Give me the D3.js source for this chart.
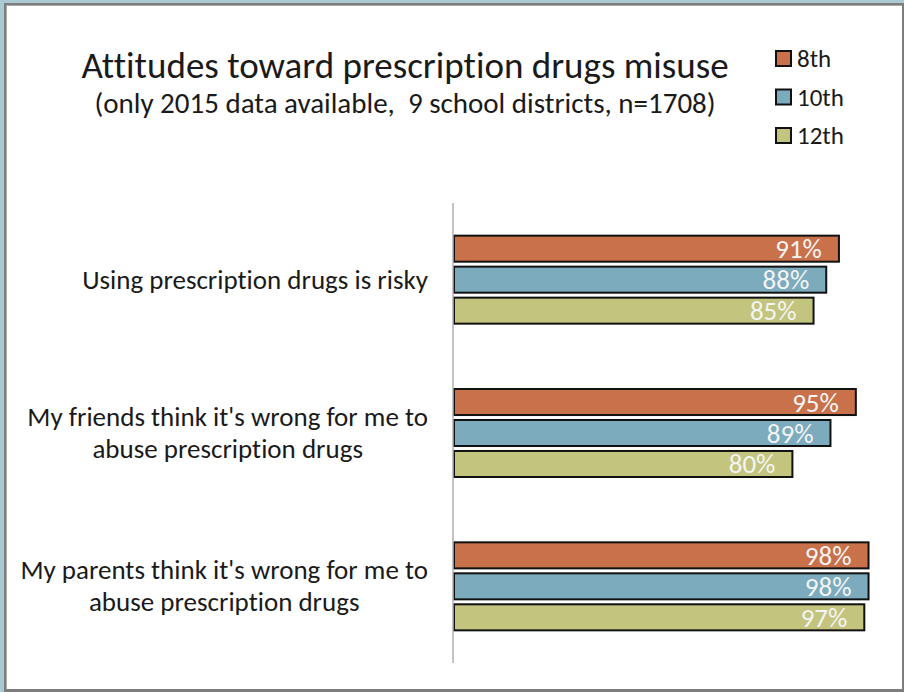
<!DOCTYPE html>
<html>
<head>
<meta charset="utf-8">
<script src="https://cdn.jsdelivr.net/npm/d3@7"></script>
<style>
  html, body { margin: 0; padding: 0; background: #abc9d3; }
  svg { display: block; }
  text { font-family: Carlito, Lato, "Open Sans", sans-serif; font-variant-ligatures: none; white-space: pre; }
</style>
</head>
<body>
<svg id="chart" width="904" height="692"></svg>
<script>
// Survey questions, one entry per line of the wrapped label
const categories = [
  ["Using prescription drugs is risky"],
  ["My friends think it's wrong for me to", "abuse prescription drugs"],
  ["My parents think it's wrong for me to", "abuse prescription drugs"]
];
const grades = ["8th", "10th", "12th"];
const values8th  = [91, 95, 98];
const values10th = [88, 89, 98];
const values12th = [85, 80, 97];
const gradeColors = ["#c8714a", "#7babbd", "#c3c47e"];
const titleText = "Attitudes toward prescription drugs misuse";
const subtitleText = "(only 2015 data available,  9 school districts, n=1708)";

const seriesValues = [values8th, values10th, values12th];
const catKeys = categories.map(d => d.join(" "));

const svg = d3.select("#chart");
const W = 904, H = 692;

// Window frame
svg.append("rect").attr("x", 4).attr("y", 3).attr("width", W - 4).attr("height", H - 3).attr("fill", "#7d7d7d");
svg.append("rect").attr("x", 6).attr("y", 5).attr("width", W - 8).attr("height", H - 8).attr("fill", "#a9a9a9");
svg.append("rect").attr("x", 7).attr("y", 6).attr("width", 895).attr("height", 683).attr("fill", "#ffffff");

// Scales
const x = d3.scaleLinear().domain([0, 100]).range([454, 877]);
const y = d3.scaleBand().domain(catKeys).range([203, 663]);
const inner = d3.scaleBand().domain(grades)
  .range([y.bandwidth() / 2 - 44, y.bandwidth() / 2 + 44])
  .paddingInner(0.16);

// Title
svg.append("text").attr("x", 405).attr("y", 78).attr("text-anchor", "middle")
  .attr("font-size", 37).attr("fill", "#1a1a1a").text(titleText);
svg.append("text").attr("x", 405).attr("y", 113).attr("text-anchor", "middle")
  .attr("font-size", 29).attr("fill", "#1a1a1a").text(subtitleText);

// Bars
const rows = [];
catKeys.forEach((c, i) => grades.forEach((g, j) => rows.push({ cat: c, grade: g, value: seriesValues[j][i], color: gradeColors[j] })));

const barG = svg.append("g");
barG.selectAll("rect").data(rows).join("rect")
  .attr("x", x(0))
  .attr("y", d => y(d.cat) + inner(d.grade))
  .attr("width", d => x(d.value) - x(0))
  .attr("height", inner.bandwidth())
  .attr("fill", d => d.color)
  .attr("stroke", "#111")
  .attr("stroke-width", 2);

barG.selectAll("text").data(rows).join("text")
  .attr("x", d => x(d.value) - 17)
  .attr("y", d => y(d.cat) + inner(d.grade) + inner.bandwidth() / 2 + 9.5)
  .attr("text-anchor", "end")
  .attr("font-size", 27)
  .attr("fill", "#f4f4f4")
  .text(d => d.value + "%");

// Category axis line
svg.append("line").attr("x1", 453).attr("x2", 453).attr("y1", 203).attr("y2", 663)
  .attr("stroke", "#b0b0b0").attr("stroke-width", 1.5);

// Category labels: block right-aligned, lines centred within it
const labelRight = 428, lineGap = 32, labelSize = 27;
categories.forEach((lines, i) => {
  const g = svg.append("g");
  const cy = y(catKeys[i]) + y.bandwidth() / 2;
  const t = g.selectAll("text").data(lines).join("text")
    .attr("font-size", labelSize).attr("fill", "#1a1a1a")
    .attr("text-anchor", "middle")
    .attr("y", (d, k) => cy + (k - (lines.length - 1) / 2) * lineGap + 9)
    .text(d => d);
  let maxW = 0;
  t.each(function () { maxW = Math.max(maxW, this.getComputedTextLength()); });
  t.attr("x", labelRight - maxW / 2);
});

// Legend
const legend = svg.append("g");
grades.forEach((g, j) => {
  const ly = 51 + j * 38.5;
  legend.append("rect").attr("x", 776).attr("y", ly).attr("width", 15).attr("height", 15)
    .attr("fill", gradeColors[j]).attr("stroke", "#111").attr("stroke-width", 2);
  legend.append("text").attr("x", 797).attr("y", ly + 16).attr("font-size", 25)
    .attr("fill", "#1a1a1a").text(g);
});
</script>
</body>
</html>
